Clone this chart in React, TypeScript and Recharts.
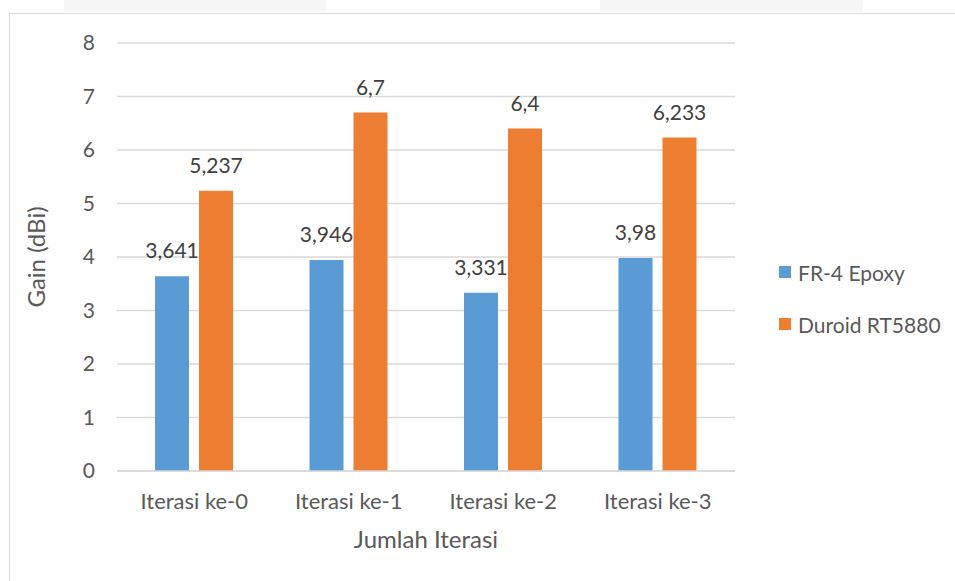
import React from "react"
import { BarChart, Bar, XAxis, YAxis, CartesianGrid, LabelList } from "recharts"

const categories = ["Iterasi ke-0", "Iterasi ke-1", "Iterasi ke-2", "Iterasi ke-3"]
const fr4Epoxy = [3.641, 3.946, 3.331, 3.98]
const duroid = [5.237, 6.7, 6.4, 6.233]
const yTicks = [0, 1, 2, 3, 4, 5, 6, 7, 8]

const seriesNames = ["FR-4 Epoxy", "Duroid RT5880"]
const colors = ["#5B9BD5", "#ED7D31"]

const data = categories.map((name, i) => ({ name, fr4: fr4Epoxy[i], duroid: duroid[i] }))

const font = "Lato, 'Open Sans', sans-serif"
const fmt = (v: any) => String(v).replace(".", ",")

// y axis title, drawn vertically in the middle of the axis box
function YTitle(props: any) {
  const vb = props.viewBox || { x: 0, y: 43, width: 117, height: 428 }
  const x = vb.x + 35
  const y = vb.y + vb.height / 2
  return (
    <text x={x} y={y} transform={`rotate(-90, ${x}, ${y})`} textAnchor="middle" dominantBaseline="central" fill="#595959" fontSize={24} fontFamily={font}>
      Gain (dBi)
    </text>
  )
}

export default function App() {
  return (
    <div style={{ position: "absolute", left: 0, top: 0, width: 955, height: 581, background: "#fff", overflow: "hidden", fontFamily: font }}>
      <div style={{ position: "absolute", left: 64, top: 0, width: 262, height: 12, background: "#f7f7f7" }} />
      <div style={{ position: "absolute", left: 600, top: 0, width: 263, height: 12, background: "#f7f7f7" }} />
      <div style={{ position: "absolute", left: 9, top: 13, width: 1000, height: 700, border: "1px solid #d9d9d9" }} />
      <div style={{ position: "absolute", left: 0, top: 0 }}>
        <BarChart
          width={955}
          height={581}
          data={data}
          margin={{ top: 43, right: 220, bottom: 80, left: 0 }}
          barSize={34}
          barGap={10}
        >
          <CartesianGrid vertical={false} stroke="#d9d9d9" strokeWidth={1.5} />
          <XAxis
            dataKey="name"
            height={30}
            tickLine={false}
            tickSize={0}
            tickMargin={22}
            axisLine={{ stroke: "#d9d9d9", strokeWidth: 1.5 }}
            tick={{ fill: "#595959", fontSize: 22, fontFamily: font }}
            label={{ value: "Jumlah Iterasi", position: "bottom", offset: 30, fill: "#595959", fontSize: 24, fontFamily: font }}
          />
          <YAxis
            width={117}
            domain={[0, 8]}
            ticks={yTicks}
            tickLine={false}
            tickSize={0}
            tickMargin={22}
            axisLine={false}
            tick={{ fill: "#595959", fontSize: 21, fontFamily: font }}
            label={<YTitle />}
          />
          <Bar dataKey="fr4" name={seriesNames[0]} fill={colors[0]} isAnimationActive={false}>
            <LabelList dataKey="fr4" position="top" offset={18} formatter={fmt} fill="#404040" fontSize={21} fontFamily={font} />
          </Bar>
          <Bar dataKey="duroid" name={seriesNames[1]} fill={colors[1]} isAnimationActive={false}>
            <LabelList dataKey="duroid" position="top" offset={18} formatter={fmt} fill="#404040" fontSize={21} fontFamily={font} />
          </Bar>
        </BarChart>
      </div>
      {seriesNames.map((s, i) => (
        <div key={s} style={{ position: "absolute", left: 779, top: 260 + i * 52, height: 24, display: "flex", alignItems: "center", color: "#595959", fontSize: 21 }}>
          <span style={{ display: "inline-block", width: 12, height: 12, background: colors[i], marginRight: 7 }} />
          <span>{s}</span>
        </div>
      ))}
    </div>
  )
}
